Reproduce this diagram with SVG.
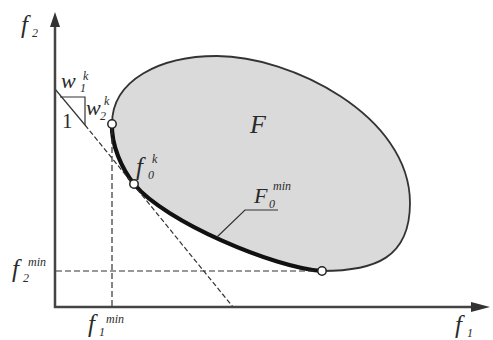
<svg xmlns="http://www.w3.org/2000/svg" width="493" height="340" viewBox="0 0 493 340">
<style>
.t{font-family:"Liberation Serif","Times New Roman",serif;font-style:italic;fill:#2a2a2a}
.big{font-size:22px}
.ff{font-size:25px}
.sm{font-size:12px}
.ax{stroke:#444;stroke-width:2.5;fill:none}
.dash{stroke:#333;stroke-width:1.2;fill:none;stroke-dasharray:6 3}
.thin{stroke:#333;stroke-width:1.2;fill:none}
.pt{fill:#fff;stroke:#222;stroke-width:1.5}
</style>
<rect width="493" height="340" fill="#fff"/>
<g id="region-F">
<path d="M112,124 C112,80 160,56 217,56 C290,56 410,115 410,203 C410,258 375,271 322,271 C275,268 165,222 134,184 C122,169 111,145 112,124 Z" fill="#dadada" stroke="#333" stroke-width="1.8"/>
<path d="M322,271 C275,268 165,222 134,184 C122,169 111,145 112,124" fill="none" stroke="#111" stroke-width="4.2"/>
</g>
<g id="guides">
<line class="dash" x1="112" y1="129" x2="112" y2="306"/>
<line class="dash" x1="56" y1="271" x2="318" y2="271"/>
<line class="thin" x1="55" y1="89" x2="85" y2="125"/>
<line class="thin" x1="85" y1="125" x2="233" y2="307" stroke-dasharray="5 2.5" stroke-width="1"/>
<polyline class="thin" points="60,97 85,97 85,125"/>
<polyline class="thin" points="217,237 245,210 278,210"/>
</g>
<g id="axes">
<polyline class="ax" points="55,24 55,307 472,307"/>
<polygon points="55,12 50,27 60,27" fill="#333"/>
<polygon points="490,307 471,302 471,312" fill="#333"/>
</g>
<g id="points">
<circle class="pt" cx="112" cy="124" r="4.2"/>
<circle class="pt" cx="134" cy="184" r="4.2"/>
<circle class="pt" cx="322" cy="271" r="4.2"/>
</g>
<g id="labels">
<text class="t ff" x="21" y="33">f</text><text class="t sm" x="32" y="37">2</text>
<text class="t ff" x="455" y="333">f</text><text class="t sm" x="467" y="337">1</text>
<text class="t ff" x="88" y="332">f</text><text class="t sm" x="99" y="336">1</text><text class="t sm" x="106" y="323">min</text>
<text class="t ff" x="12" y="277">f</text><text class="t sm" x="23" y="282">2</text><text class="t sm" x="28" y="266">min</text>
<text class="t big" x="61" y="88">w</text><text class="t sm" x="80" y="92">1</text><text class="t sm" x="83" y="80">k</text>
<text class="t big" x="86" y="115">w</text><text class="t sm" x="100" y="120">2</text><text class="t sm" x="104" y="105">k</text>
<text x="62" y="128" style="font-family:'Liberation Serif','Times New Roman',serif;font-size:21px;fill:#2a2a2a">1</text>
<text class="t" x="250" y="133" style="font-size:26px">F</text>
<text class="t big" x="254" y="203">F</text><text class="t sm" x="269" y="208">0</text><text class="t sm" x="273" y="190">min</text>
<text class="t ff" x="136" y="175">f</text><text class="t sm" x="148" y="179">0</text><text class="t sm" x="152" y="163">k</text>
</g>
</svg>
